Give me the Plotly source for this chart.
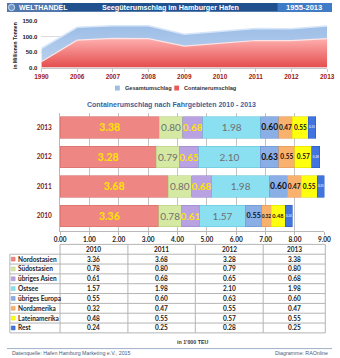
import plotly.graph_objects as go

# ---- data -------------------------------------------------------------
years_top = ["1990", "2006", "2007", "2008", "2009", "2010", "2011", "2012", "2013"]
gesamt = [62, 131, 136, 136, 108.5, 117, 127, 126, 135]
container = [19, 89, 95, 94, 70, 78, 88, 87.5, 94]

bar_years = ["2010", "2011", "2012", "2013"]
regions = ["Nordostasien", "Südostasien", "übriges Asien", "Ostsee",
           "übriges Europa", "Nordamerika", "Lateinamerika", "Rest"]
teu = {
    "Nordostasien":   [3.36, 3.68, 3.28, 3.38],
    "Südostasien":    [0.78, 0.80, 0.79, 0.80],
    "übriges Asien":  [0.61, 0.68, 0.65, 0.68],
    "Ostsee":         [1.57, 1.98, 2.10, 1.98],
    "übriges Europa": [0.55, 0.60, 0.63, 0.60],
    "Nordamerika":    [0.32, 0.47, 0.55, 0.47],
    "Lateinamerika":  [0.48, 0.55, 0.57, 0.55],
    "Rest":           [0.24, 0.25, 0.28, 0.25],
}
x_ticks = [0, 1, 2, 3, 4, 5, 6, 7, 8, 9]

# ---- styles -------------------------------------------------------------
W, H = 340, 358
def X(px):
    return px / W
def Y(py):
    return 1 - py / H

seg_color = {
    "Nordostasien": "#ee8784", "Südostasien": "#d5e9a3", "übriges Asien": "#b9a2e2",
    "Ostsee": "#8adff0", "übriges Europa": "#8aaee6", "Nordamerika": "#f9b26e",
    "Lateinamerika": "#ffff10", "Rest": "#4274e0",
}
seg_edge = {
    "Nordostasien": "#d46a68", "Südostasien": "#b8cf86", "übriges Asien": "#9a86c8",
    "Ostsee": "#68c6d8", "übriges Europa": "#6a90cc", "Nordamerika": "#e0985a",
    "Lateinamerika": "#e0e000", "Rest": "#2a58c0",
}
seg_font = {
    "Nordostasien": dict(color="#ffe400", size=10.5, family="Lato", weight="bold"),
    "Südostasien": dict(color="#707070", size=10, family="Lato"),
    "übriges Asien": dict(color="#ffe400", size=10, family="Lato", weight="bold"),
    "Ostsee": dict(color="#707070", size=10, family="Lato"),
    "übriges Europa": dict(color="#111111", size=8.5, family="Lato", weight="bold"),
    "Nordamerika": dict(color="#111111", size=6.5, family="Lato", weight="bold"),
    "Lateinamerika": dict(color="#111111", size=6.5, family="Lato", weight="bold"),
    "Rest": dict(color="#ffffff", size=3, family="Lato"),
}
# narrow 2010 segments get a slightly smaller label so neighbours stay legible
narrow_2010 = {"übriges Europa": 7.2, "Nordamerika": 4.8, "Lateinamerika": 5.6}
SANS = "Liberation Sans"

fig = go.Figure()

# ---- top chart: tonnage areas ------------------------------------------
fig.add_trace(go.Scatter(
    x=years_top, y=gesamt, mode="lines", name="Gesamtumschlag",
    line=dict(color="#d6e6f8", width=1.5), fill="tozeroy",
    fillgradient=dict(type="vertical", start=0, stop=140,
                      colorscale=[[0, "#bcd3f0"], [1, "#9dbde6"]]),
    xaxis="x", yaxis="y", showlegend=False, hoverinfo="skip"))
fig.add_trace(go.Scatter(
    x=years_top, y=container, mode="lines", name="Containerumschlag",
    line=dict(color="#fde4e4", width=1.2), fill="tozeroy",
    fillgradient=dict(type="vertical", start=0, stop=100,
                      colorscale=[[0, "#e44a4a"], [1, "#ffb4b4"]]),
    xaxis="x", yaxis="y", showlegend=False, hoverinfo="skip"))

# ---- bottom chart: stacked bars -----------------------------------------
for r in regions:
    vals = teu[r]
    font = dict(seg_font[r])
    if r in narrow_2010:
        font["size"] = [narrow_2010[r]] + [seg_font[r]["size"]] * (len(vals) - 1)
    fig.add_trace(go.Bar(
        y=bar_years, x=vals, orientation="h", name=r,
        marker=dict(color=seg_color[r], line=dict(color=seg_edge[r], width=0.6)),
        text=[f"{v:.2f}" for v in vals], textposition="inside",
        insidetextanchor="middle", textangle=0, constraintext="none",
        textfont=font, xaxis="x2", yaxis="y2",
        showlegend=False, hoverinfo="skip"))

fig.update_layout(
    width=W, height=H, margin=dict(l=0, r=0, t=0, b=0),
    paper_bgcolor="white", plot_bgcolor="white",
    barmode="stack", bargap=0.27,
    xaxis=dict(domain=[X(36), X(335)], type="category", range=[0, 8],
               showgrid=False, showline=True, linecolor="#c8c8c8", linewidth=1,
               ticks="outside", ticklen=3, tickcolor="#c8c8c8",
               tickfont=dict(family=SANS, size=6.5, color="#a01818", weight="bold"),
               fixedrange=True),
    yaxis=dict(domain=[Y(65.7), Y(18.7)], range=[0, 150],
               tickvals=[0, 50, 100, 150], ticktext=["0.0", "50.0", "100.0", "150.0"],
               showgrid=True, gridcolor="#dcdcdc", gridwidth=1, zeroline=False,
               tickfont=dict(family=SANS, size=6, color="#222222", weight="bold"),
               ticklabelstandoff=3, fixedrange=True),
    xaxis2=dict(domain=[X(55.5), X(332)], range=[0, 9],
                tickvals=x_ticks, ticktext=[f"{t:.2f}" for t in x_ticks],
                showgrid=True, gridcolor="#c4c4c4", gridwidth=1, zeroline=False,
                showline=True, linecolor="#b8b8b8", linewidth=1,
                ticks="outside", ticklen=3, tickcolor="#b8b8b8",
                tickfont=dict(family="Lato", size=6.5, color="#222222", weight="bold"),
                anchor="y2", fixedrange=True),
    yaxis2=dict(domain=[Y(231.5), Y(111.5)], type="category",
                categoryorder="array", categoryarray=bar_years,
                showline=True, linecolor="#b8b8b8", linewidth=1, showgrid=False,
                tickfont=dict(family="Lato", size=6.5, color="#7a1212", weight="bold"),
                ticklabelstandoff=6, anchor="x2", fixedrange=True),
)

shapes = []
ann = []

# ---- header bar ----------------------------------------------------------
shapes.append(dict(type="rect", xref="paper", yref="paper", x0=0, x1=1, y0=Y(9), y1=1,
                   fillcolor="#21508f", line_width=0, layer="below"))
shapes.append(dict(type="rect", xref="paper", yref="paper", x0=0, x1=X(58), y0=Y(9), y1=1,
                   fillcolor="#4f76ad", line_width=0, layer="below"))
shapes.append(dict(type="rect", xref="paper", yref="paper", x0=X(283), x1=1, y0=Y(9), y1=1,
                   fillcolor="#3f7bc6", line_width=0, layer="below"))
shapes.append(dict(type="circle", xref="paper", yref="paper", x0=X(1.5), x1=X(8), y0=Y(7.8), y1=Y(1.2),
                   fillcolor="#6f95c8", line=dict(color="#e8eef8", width=0.8)))
ann.append(dict(text="<b>WELTHANDEL</b>", x=X(10), y=Y(4.6), xanchor="left", yanchor="middle",
                font=dict(family=SANS, size=7, color="white")))
ann.append(dict(text="<b>Seegüterumschlag im Hamburger Hafen</b>", x=X(171), y=Y(4.6),
                xanchor="center", yanchor="middle", font=dict(family=SANS, size=7.2, color="white")))
ann.append(dict(text="<b>1955-2013</b>", x=X(311), y=Y(4.6), xanchor="center", yanchor="middle",
                font=dict(family=SANS, size=7.6, color="white")))

# ---- top chart axis title and legend ----------------------------------
ann.append(dict(text="<b>in Millionen Tonnen</b>", x=X(9), y=Y(43), textangle=-90,
                xanchor="center", yanchor="middle", font=dict(family=SANS, size=5, color="#222222")))
leg = [("Gesamtumschlag", "#9dbde6", 113), ("Containerumschlag", "#e85a5a", 175)]
for name, col, px in leg:
    shapes.append(dict(type="rect", xref="paper", yref="paper", x0=X(px), x1=X(px + 5),
                       y0=Y(89), y1=Y(84), fillcolor=col, line_width=0))
    ann.append(dict(text=f"<b>{name}</b>", x=X(px + 8), y=Y(86.6), xanchor="left", yanchor="middle",
                    font=dict(family=SANS, size=5.6, color="#333333")))

# ---- bar chart title -----------------------------------------------------
ann.append(dict(text="<b>Containerumschlag nach Fahrgebieten 2010 - 2013</b>", x=X(172), y=Y(104),
                xanchor="center", yanchor="middle", font=dict(family=SANS, size=7, color="#3b5f9e")))

# ---- data table ----------------------------------------------------------
col_edges = [55.5, 126.5, 197, 268, 333]
row_top, head_h, row_h = 245.5, 10, 10
n_rows = len(regions)
table_bottom = row_top + head_h + n_rows * row_h
grid = "#b4b4b4"
# horizontal rules
shapes.append(dict(type="line", xref="paper", yref="paper", x0=X(col_edges[0]), x1=X(col_edges[-1]),
                   y0=Y(row_top), y1=Y(row_top), line=dict(color=grid, width=1)))
for i in range(n_rows + 1):
    yy = row_top + head_h + i * row_h
    shapes.append(dict(type="line", xref="paper", yref="paper", x0=X(3), x1=X(col_edges[-1]),
                       y0=Y(yy), y1=Y(yy), line=dict(color=grid, width=1)))
# vertical rules
shapes.append(dict(type="line", xref="paper", yref="paper", x0=X(3), x1=X(3),
                   y0=Y(row_top + head_h), y1=Y(table_bottom), line=dict(color=grid, width=1)))
for ce in col_edges:
    shapes.append(dict(type="line", xref="paper", yref="paper", x0=X(ce), x1=X(ce),
                       y0=Y(row_top), y1=Y(table_bottom), line=dict(color=grid, width=1)))
# header
for j, yr in enumerate(bar_years):
    cx = (col_edges[j] + col_edges[j + 1]) / 2
    ann.append(dict(text=f"<b>{yr}</b>", x=X(cx), y=Y(row_top + head_h / 2), xanchor="center",
                    yanchor="middle", font=dict(family="Lato", size=6.5, color="#222222")))
# body
for i, r in enumerate(regions):
    cy = row_top + head_h + i * row_h + row_h / 2
    shapes.append(dict(type="rect", xref="paper", yref="paper", x0=X(4.5), x1=X(8.5),
                       y0=Y(cy + 2), y1=Y(cy - 2), fillcolor=seg_color[r],
                       line=dict(color=seg_edge[r], width=0.5)))
    ann.append(dict(text=f"<b>{r}</b>", x=X(9.5), y=Y(cy), xanchor="left", yanchor="middle",
                    font=dict(family="Lato", size=6.5, color="#1e1e2a")))
    for j in range(len(bar_years)):
        cx = (col_edges[j] + col_edges[j + 1]) / 2
        ann.append(dict(text=f"<b>{teu[r][j]:.2f}</b>", x=X(cx), y=Y(cy), xanchor="center",
                        yanchor="middle", font=dict(family="Lato", size=6.5, color="#222222")))

ann.append(dict(text="<b>in 1'000 TEU</b>", x=X(194), y=Y(345), xanchor="center", yanchor="middle",
                font=dict(family=SANS, size=5.3, color="#333333")))

# ---- footer --------------------------------------------------------------
shapes.append(dict(type="line", xref="paper", yref="paper", x0=0, x1=1, y0=Y(351.5), y1=Y(351.5),
                   line=dict(color="#9fb0c8", width=1)))
ann.append(dict(text="Datenquelle: Hafen Hamburg Marketing e.V., 2015", x=X(3), y=Y(355.5),
                xanchor="left", yanchor="middle", font=dict(family=SANS, size=5.3, color="#4a5a78")))
ann.append(dict(text="Diagramme: RAOnline", x=X(338), y=Y(355.5), xanchor="right", yanchor="middle",
                font=dict(family=SANS, size=5.3, color="#4a5a78")))

for a in ann:
    a.setdefault("xref", "paper")
    a.setdefault("yref", "paper")
    a.setdefault("showarrow", False)
fig.update_layout(shapes=shapes, annotations=ann)

fig.write_html("out.html")
